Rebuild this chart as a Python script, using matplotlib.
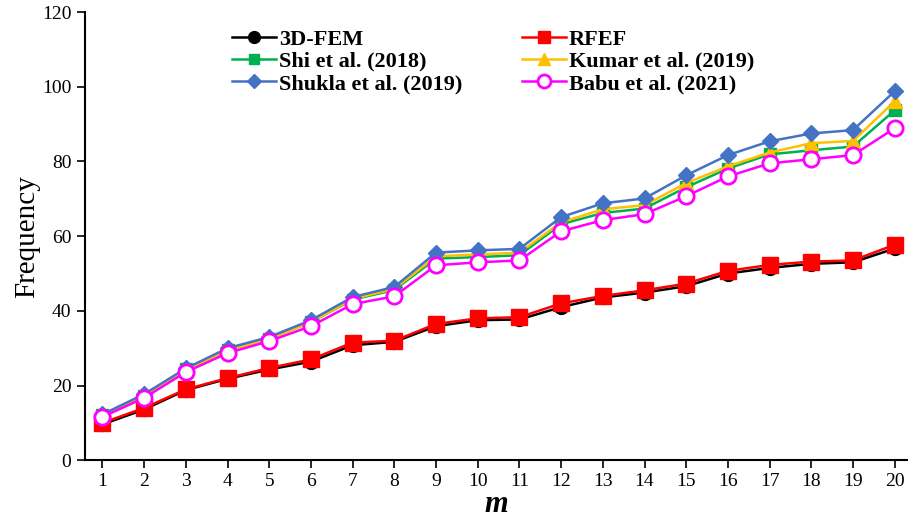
import numpy as np
import matplotlib.pyplot as plt

m = np.arange(1, 21)

fem = [9.6, 13.6, 18.8, 21.8, 24.3, 26.4, 30.8, 31.7, 35.9, 37.5,
       37.7, 41.0, 43.6, 44.9, 46.6, 50.0, 51.5, 52.6, 53.0, 56.7]
rfef = [10.0, 14.0, 19.0, 22.0, 24.7, 27.0, 31.5, 32.0, 36.5, 38.0,
        38.3, 42.0, 44.0, 45.5, 47.3, 50.7, 52.3, 53.2, 53.5, 57.7]
shi = [12.2, 17.3, 24.3, 29.5, 32.6, 37.0, 43.0, 45.6, 54.0, 54.4,
       54.9, 63.2, 66.2, 67.4, 73.1, 78.1, 81.9, 83.0, 84.0, 93.7]
kumar = [12.1, 17.2, 24.2, 29.4, 32.5, 36.9, 43.2, 45.9, 54.6, 55.1,
         55.6, 63.7, 67.2, 68.3, 74.2, 78.7, 82.4, 84.9, 85.5, 96.1]
shukla = [12.3, 17.7, 24.6, 30.0, 33.0, 37.5, 43.7, 46.4, 55.6, 56.2,
          56.6, 65.1, 68.8, 70.1, 76.3, 81.7, 85.4, 87.5, 88.4, 98.8]
babu = [11.6, 16.7, 23.6, 28.7, 31.9, 35.9, 41.8, 43.9, 52.2, 53.0,
        53.5, 61.3, 64.3, 65.9, 70.7, 76.0, 79.5, 80.6, 81.7, 88.9]

plt.rcParams['font.family'] = 'Liberation Serif'

fig = plt.figure(figsize=(9.09, 5.26), dpi=100)
ax = fig.add_axes([0.093, 0.125, 0.905, 0.852])

h_fem, = ax.plot(m, fem, '-o', color='black', ms=10, lw=1.8, label='3D-FEM')
h_rfef, = ax.plot(m, rfef, '-s', color='#ff0000', ms=11, lw=1.8, label='RFEF')
h_shi, = ax.plot(m, shi, '-s', color='#00b050', ms=8, lw=1.8, label='Shi et al. (2018)')
h_kumar, = ax.plot(m, kumar, '-^', color='#ffc000', ms=10, lw=1.8, label='Kumar et al. (2019)')
h_shukla, = ax.plot(m, shukla, '-D', color='#4472c4', ms=8, lw=1.8, label='Shukla et al. (2019)')
h_babu, = ax.plot(m, babu, '-o', color='#ff00ff', mfc='white', mec='#ff00ff', mew=2,
                  ms=11, lw=1.8, label='Babu et al. (2021)')

ax.set_xlim(0.57, 20.3)
ax.set_ylim(0, 120)
ax.set_xticks(m)
ax.set_yticks(range(0, 121, 20))
ax.spines['top'].set_visible(False)
ax.spines['right'].set_visible(False)
ax.spines['left'].set_linewidth(1.5)
ax.spines['bottom'].set_linewidth(1.5)
ax.tick_params(direction='out', length=6, width=1.2, labelsize=14)

ax.set_xlabel('m', fontsize=22, style='italic', fontweight='bold', labelpad=0)
ax.set_ylabel('Frequency', fontsize=21, labelpad=1)

# row-wise order like the original figure
handles = [h_fem, h_shi, h_shukla, h_rfef, h_kumar, h_babu]
ax.legend(handles=handles, labels=[h.get_label() for h in handles],
          loc='upper left', bbox_to_anchor=(0.163, 0.992), ncol=2,
          frameon=False, prop={'weight': 'bold', 'size': 16},
          handlelength=2.0, columnspacing=2.7, labelspacing=0.08,
          handletextpad=0.1, borderaxespad=0.2, markerscale=0.85)

fig.savefig('out.png', dpi=100)
